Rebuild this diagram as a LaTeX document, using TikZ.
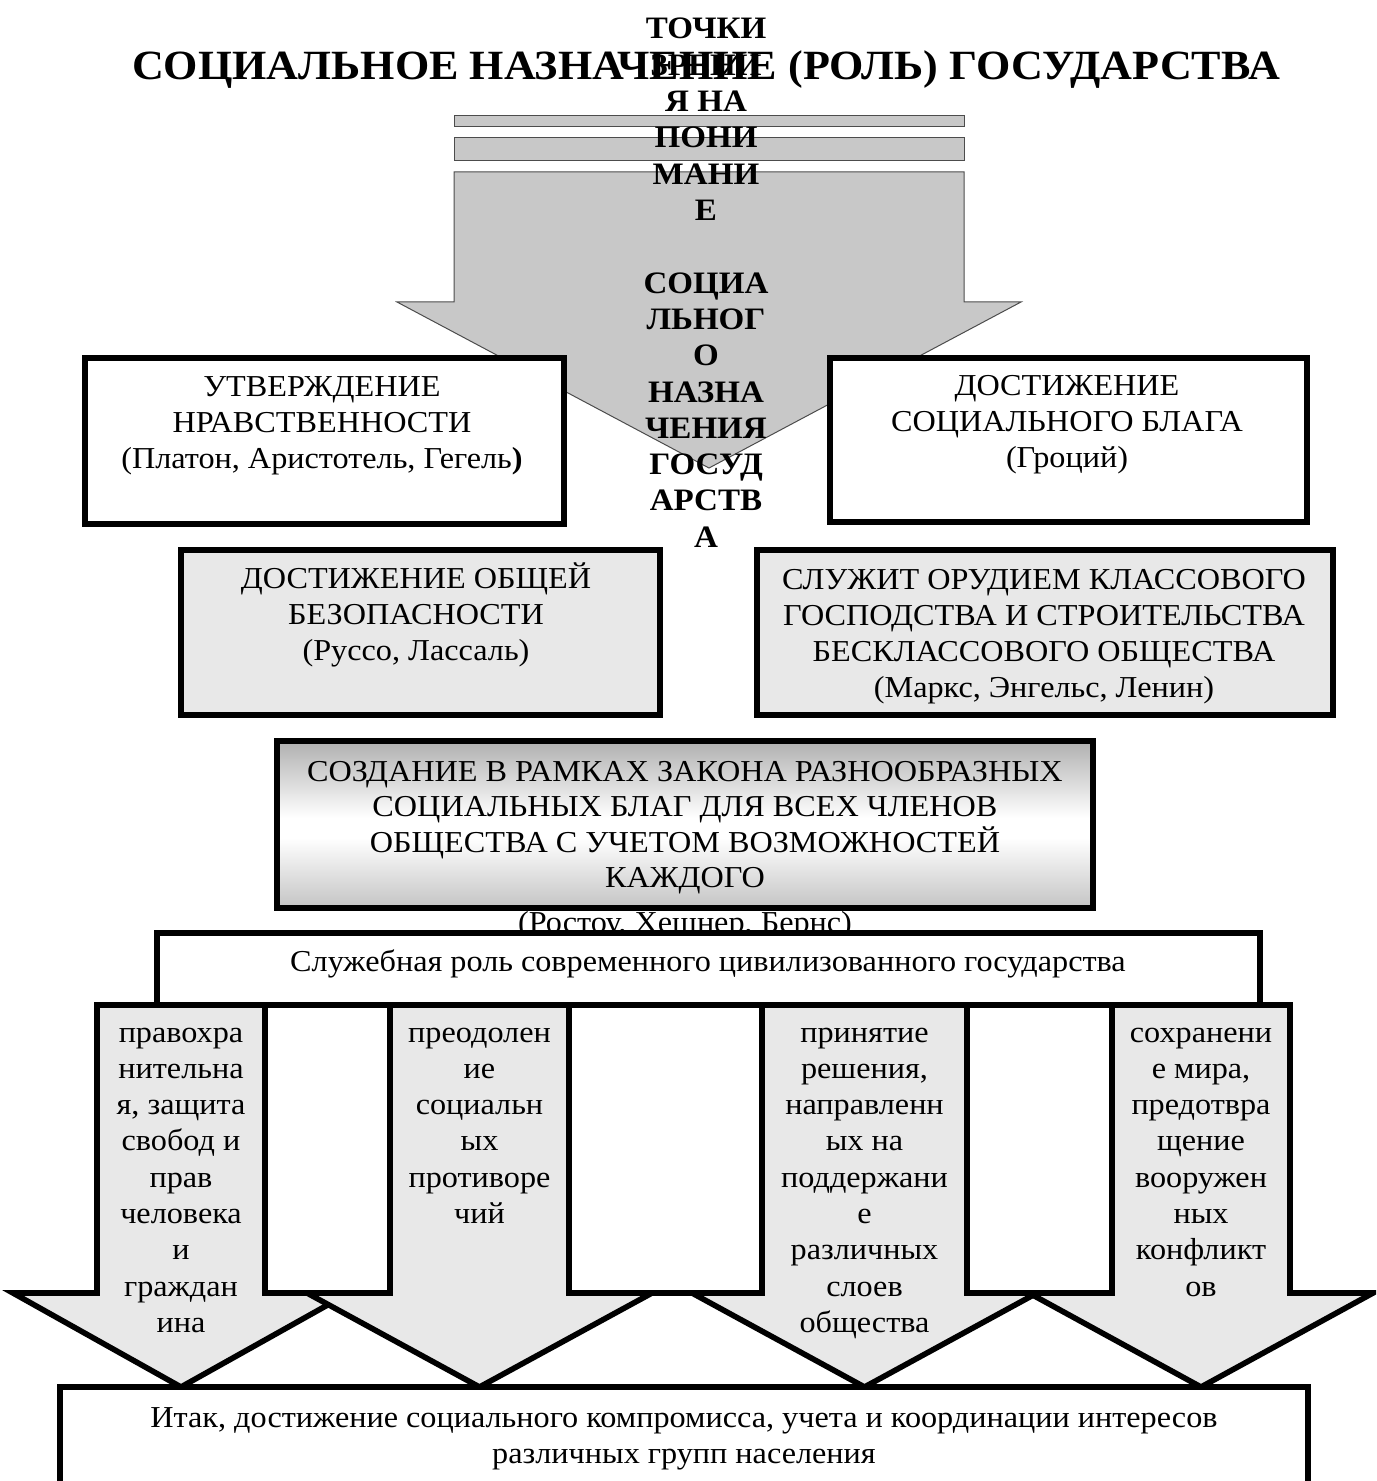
\documentclass[tikz,border=0pt]{standalone}
\usepackage{fontspec}
\setmainfont{Liberation Serif}[FakeStretch=1.06]
\definecolor{arrowgray}{HTML}{C8C8C8}
\definecolor{lightbox}{HTML}{E8E8E8}
\definecolor{szTop}{HTML}{B0B0B0}
\definecolor{szBot}{HTML}{C4C4C4}
\pgfdeclareverticalshading{szshade}{100bp}{color(0bp)=(szBot); color(25bp)=(szBot); color(46bp)=(white); color(52bp)=(white); color(75bp)=(szTop); color(100bp)=(szTop)}
\tikzset{
  topgray/.style={fill=arrowgray, draw=black!70, line width=0.5pt},
  thickbox/.style={draw=black, line width=2.8pt, line join=miter},
  downarrow/.style={fill=lightbox, draw=black, line width=2.8pt, line join=miter},
  body/.style={font=\fontsize{15.2}{18}\selectfont, anchor=base, inner sep=0pt},
  boldtxt/.style={font=\bfseries\fontsize{15.6}{18}\selectfont, anchor=base, inner sep=0pt},
  titletxt/.style={font=\bfseries\fontsize{20.8}{24}\selectfont, anchor=base, inner sep=0pt}
}
\begin{document}
\begin{tikzpicture}[x=0.5pt,y=-0.5pt]
\useasboundingbox (0,0) rectangle (1376,1481);
\clip (0,0) rectangle (1376,1481);

% big top arrow
\draw[topgray] (454,116) rectangle (964,127);
\draw[topgray] (454,138) rectangle (964,161);
\draw[topgray] (454,172) -- (964,172) -- (964,302) -- (1021,302) -- (709,468) -- (397,302) -- (454,302) -- cycle;

% title
\node[titletxt] (title) at (706,80) {СОЦИАЛЬНОЕ НАЗНАЧЕНИЕ (РОЛЬ) ГОСУДАРСТВА};

% upper boxes
\draw[thickbox, fill=white] (85,358) rectangle (564,524);
\draw[thickbox, fill=white] (830,358) rectangle (1307,522);
\draw[thickbox, fill=lightbox] (181,550) rectangle (660,715);
\draw[thickbox, fill=lightbox] (757,550) rectangle (1333,715);

\foreach \s [count=\i from 0] in {УТВЕРЖДЕНИЕ, НРАВСТВЕННОСТИ, {(Платон, Аристотель, Гегель\textbf{)}}}
  \node[body] (ut\i) at (322,396+36*\i) {\s};
\foreach \s [count=\i from 0] in {ДОСТИЖЕНИЕ, СОЦИАЛЬНОГО БЛАГА, (Гроций)}
  \node[body] (ds\i) at (1067,395+36*\i) {\s};
\foreach \s [count=\i from 0] in {ДОСТИЖЕНИЕ ОБЩЕЙ, БЕЗОПАСНОСТИ, {(Руссо, Лассаль)}}
  \node[body] (ob\i) at (416,588+36*\i) {\s};
\foreach \s [count=\i from 0] in {СЛУЖИТ ОРУДИЕМ КЛАССОВОГО, ГОСПОДСТВА И СТРОИТЕЛЬСТВА, БЕСКЛАССОВОГО ОБЩЕСТВА, {(Маркс, Энгельс, Ленин)}}
  \node[body] (kl\i) at (1044,589+36*\i) {\s};

% text of the big arrow
\foreach \s [count=\i from 0] in {ТОЧКИ, ЗРЕНИ, Я НА, ПОНИ, МАНИ, Е, {}, СОЦИА, ЛЬНОГ, О, НАЗНА, ЧЕНИЯ, ГОСУД, АРСТВ, А}
  \node[boldtxt] (ta\i) at (706,39+36.3*\i) {\s};

% gradient box
\shade[shading=szshade] (277,741) rectangle (1093,908);
\draw[thickbox] (277,741) rectangle (1093,908);
\foreach \s [count=\i from 0] in {СОЗДАНИЕ В РАМКАХ ЗАКОНА РАЗНООБРАЗНЫХ, СОЦИАЛЬНЫХ БЛАГ ДЛЯ ВСЕХ ЧЛЕНОВ, ОБЩЕСТВА С УЧЕТОМ ВОЗМОЖНОСТЕЙ, КАЖДОГО}
  \node[body] (sz\i) at (685,781+35.5*\i) {\s};
\node[body] (authors) at (685,932) {(Ростоу, Хешнер, Бернс)};

% service role box
\draw[thickbox, fill=white] (157,933) rectangle (1260,1005);
\node[body] (serv) at (708,971) {Служебная роль современного цивилизованного государства};

% white spacers between arrows
\draw[thickbox, fill=white] (265,1005) rectangle (390,1293);
\draw[thickbox, fill=white] (569,1005) rectangle (762,1293);
\draw[thickbox, fill=white] (967,1005) rectangle (1112,1293);

% four down arrows
\draw[downarrow] (97,1005) -- (265,1005) -- (265,1293) -- (349,1293) -- (181,1387) -- (13,1293) -- (97,1293) -- cycle;
\draw[downarrow] (390,1005) -- (569,1005) -- (569,1293) -- (652,1293) -- (479.5,1387) -- (307,1293) -- (390,1293) -- cycle;
\draw[downarrow] (762,1005) -- (967,1005) -- (967,1293) -- (1037,1293) -- (864.5,1387) -- (692,1293) -- (762,1293) -- cycle;
\draw[downarrow] (1112,1005) -- (1290,1005) -- (1290,1293) -- (1373,1293) -- (1201,1387) -- (1029,1293) -- (1112,1293) -- cycle;

\foreach \s [count=\i from 0] in {правохра, нительна, {я, защита}, свобод и, прав, человека, и, граждан, ина}
  \node[body] (aa\i) at (181,1042+36.3*\i) {\s};
\foreach \s [count=\i from 0] in {преодолен, ие, социальн, ых, противоре, чий}
  \node[body] (ab\i) at (479.5,1042+36.3*\i) {\s};
\foreach \s [count=\i from 0] in {принятие, {решения,}, направленн, ых на, поддержани, е, различных, слоев, общества}
  \node[body] (ac\i) at (864.5,1042+36.3*\i) {\s};
\foreach \s [count=\i from 0] in {сохранени, {е мира,}, предотвра, щение, вооружен, ных, конфликт, ов}
  \node[body] (ad\i) at (1201,1042+36.3*\i) {\s};

% bottom box
\draw[thickbox, fill=white] (60,1387) rectangle (1308,1530);
\node[body] (sum1) at (684,1427) {Итак, достижение социального компромисса, учета и координации интересов};
\node[body] (sum2) at (684,1463) {различных групп населения};
\end{tikzpicture}
\end{document}
